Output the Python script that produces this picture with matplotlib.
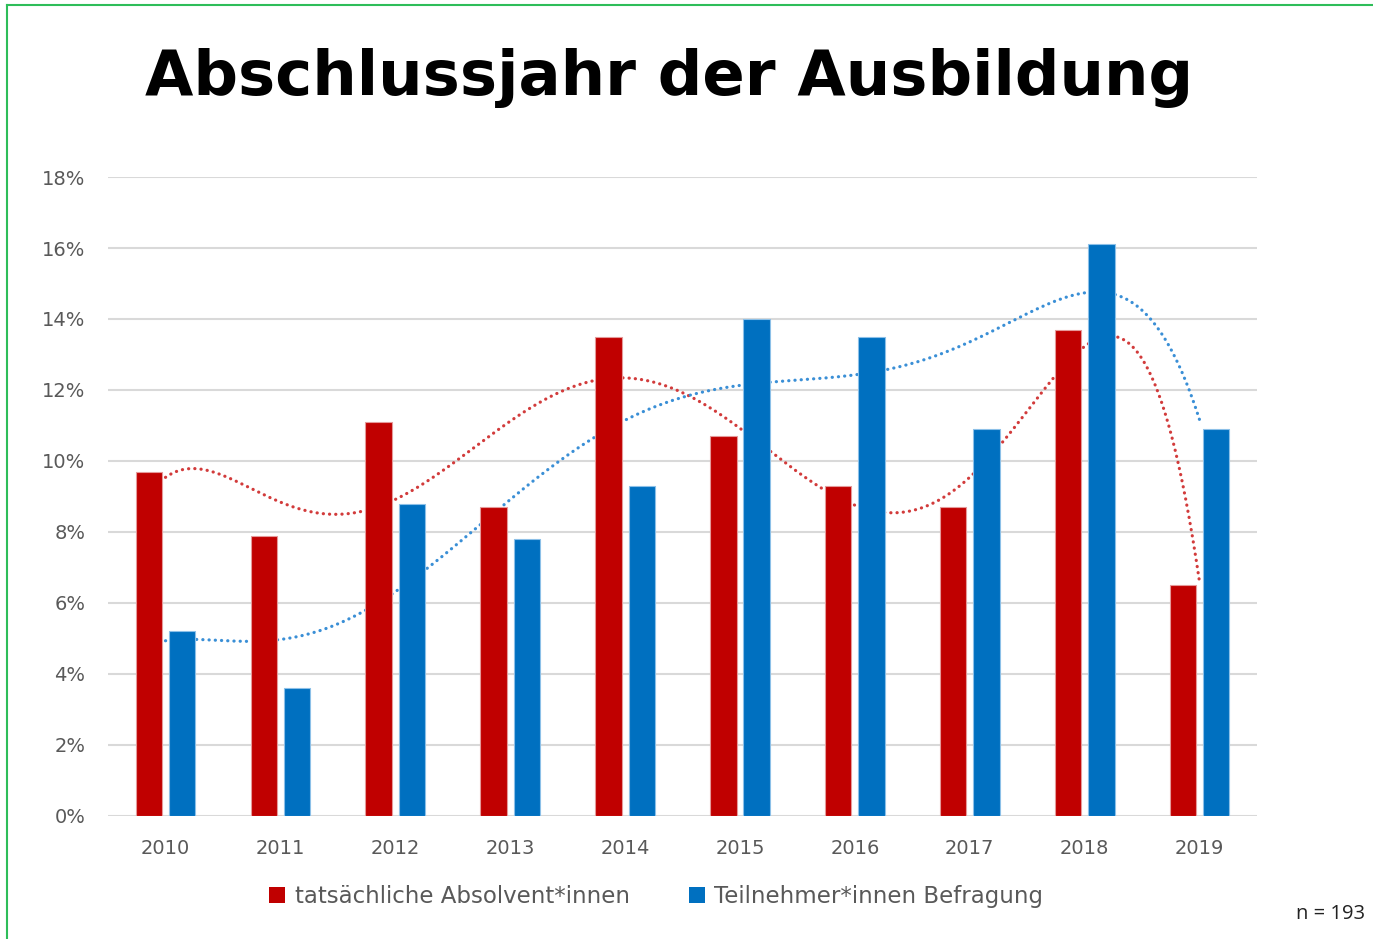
import numpy as np
import matplotlib
matplotlib.use("Agg")
import matplotlib.pyplot as plt
from matplotlib.lines import Line2D
from matplotlib.patches import Patch

years = ["2010", "2011", "2012", "2013", "2014", "2015", "2016", "2017", "2018", "2019"]
absolventen = [9.7, 7.9, 11.1, 8.7, 13.5, 10.7, 9.3, 8.7, 13.7, 6.5]
befragung = [5.2, 3.6, 8.8, 7.8, 9.3, 14.0, 13.5, 10.9, 16.1, 10.9]
yticks = [0, 2, 4, 6, 8, 10, 12, 14, 16, 18]
title = "Abschlussjahr der Ausbildung"
label_red = "tatsächliche Absolvent*innen"
label_blue = "Teilnehmer*innen Befragung"
note = "n = 193"

RED = "#C00000"
BLUE = "#0070C0"
GRAY = "#595959"

fig = plt.figure(figsize=(13.73, 9.39), dpi=100)
ax = fig.add_axes([0.0787, 0.131, 0.8368, 0.6805])

x = np.arange(len(years))
w = 0.23
off = 0.145
ax.bar(x - off, absolventen, w, color=RED, edgecolor="#E59A9A", linewidth=0.8, zorder=3)
ax.bar(x + off, befragung, w, color=BLUE, edgecolor="#8CC0E8", linewidth=0.8, zorder=3)

# polynomial trendlines (order 6), as in the source chart
xs = np.linspace(0, len(years) - 1, 600)
for vals, col in ((absolventen, "#D23B3B"), (befragung, "#3A8FD6")):
    c = np.polyfit(x, vals, 6)
    ax.plot(xs, np.polyval(c, xs), linestyle=(0, (0.05, 1.9)), color=col,
            linewidth=2.3, dash_capstyle="round", zorder=2)

ax.set_xlim(-0.5, len(years) - 0.5)
ax.set_ylim(0, 18)
ax.set_yticks(yticks)
ax.set_yticklabels([f"{t}%" for t in yticks])
ax.set_xticks(x)
ax.set_xticklabels(years)
ax.yaxis.grid(True, color="#D9D9D9", linewidth=1.5, zorder=0)
ax.set_axisbelow(True)
for s in ax.spines.values():
    s.set_visible(False)
ax.tick_params(axis="both", length=0, labelsize=14, labelcolor=GRAY)
ax.tick_params(axis="y", pad=16.5)
ax.tick_params(axis="x", pad=16.5)
for lab in ax.get_xticklabels() + ax.get_yticklabels():
    lab.set_fontfamily("DejaVu Sans")

fig.text(0.487, 0.9165, title, ha="center", va="center", fontsize=45,
         fontweight="bold", family="DejaVu Sans", color="black")

handles = [Patch(facecolor=RED, edgecolor="none"), Patch(facecolor=BLUE, edgecolor="none")]
fig.legend(handles, [label_red, label_blue], loc="center", bbox_to_anchor=(0.478, 0.045),
           ncol=2, frameon=False, handlelength=0.7, handleheight=0.7, handletextpad=0.4,
           columnspacing=2.6, prop={"family": "DejaVu Sans", "size": 16.5}, labelcolor=GRAY)

fig.text(0.994, 0.027, note, ha="right", va="center", fontsize=14.5,
         family="Open Sans", color="#222222")

# green frame (left and top edges)
green = "#2EBD59"
fig.add_artist(Line2D([0.0051, 0.0051], [0, 0.9947], color=green, linewidth=1.5, transform=fig.transFigure))
fig.add_artist(Line2D([0.0051, 1.0], [0.9947, 0.9947], color=green, linewidth=1.5, transform=fig.transFigure))

fig.savefig("out.png", dpi=100)
